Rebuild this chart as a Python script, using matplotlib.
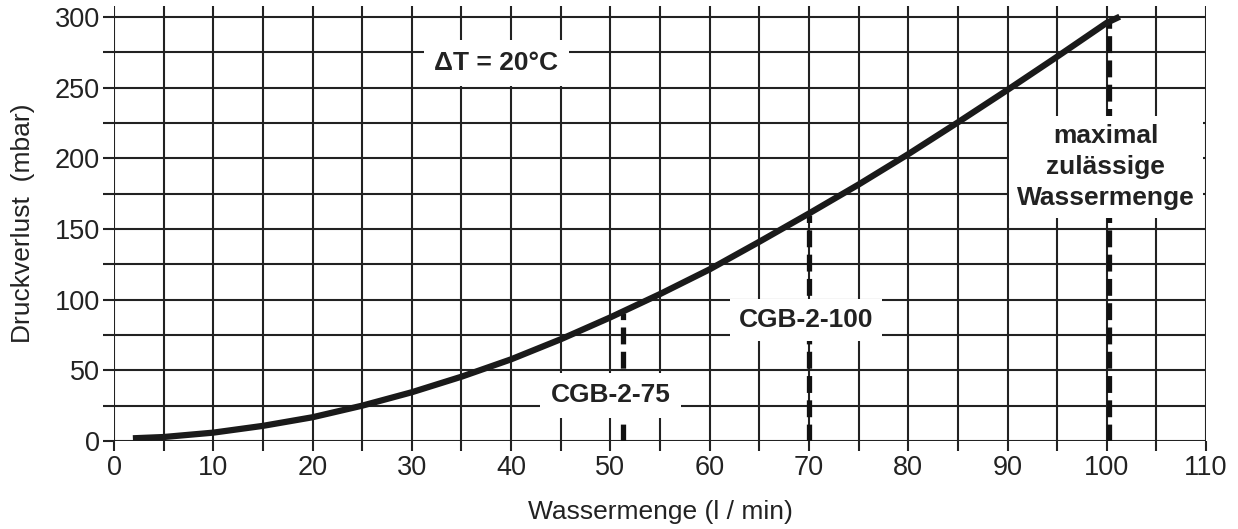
import matplotlib
matplotlib.use("Agg")
import matplotlib.pyplot as plt

plt.rcParams['font.family'] = ['Liberation Sans', 'DejaVu Sans']

# Data
flow = [1.9, 5, 10, 15, 20, 25, 30, 35, 40, 45, 50, 55, 60, 65, 70, 75, 80, 85, 90, 95, 100, 101.3]
pressure = [1.9, 2.8, 5.9, 10.7, 16.8, 25, 34.5, 45.5, 57.8, 72, 87.5, 104, 121.5, 141, 161, 181.5, 203, 225.5, 248.5, 272, 296, 300.3]

models = ["CGB-2-75", "CGB-2-100", "max"]
model_flow = [51.3, 70.0, 100.2]
model_top = [90.5, 160, 297]

x_ticks = list(range(0, 111, 5))
x_labels = [str(v) if v % 10 == 0 else "" for v in x_ticks]
y_ticks = list(range(0, 301, 25))
y_labels = [str(v) if v % 50 == 0 else "" for v in y_ticks]

fig = plt.figure(figsize=(12.38, 5.29), dpi=100)
ax = fig.add_axes([0.0921, 0.1664, 0.8821, 0.8226])

ax.set_xlim(0, 110)
ax.set_ylim(0, 308)

grid_col = '#222222'
ax.set_xticks(x_ticks)
ax.set_xticklabels(x_labels)
ax.set_yticks(y_ticks)
ax.set_yticklabels(y_labels)
ax.grid(True, color=grid_col, linewidth=1.5, zorder=1)
ax.set_axisbelow(True)
for s in ['top', 'right', 'left', 'bottom']:
    ax.spines[s].set_visible(False)
ax.tick_params(axis='x', direction='out', length=7, width=1.5, color=grid_col,
               labelsize=19.5, pad=3, labelcolor='#222222')
ax.tick_params(axis='y', direction='out', length=8, width=1.5, color=grid_col,
               labelsize=19.5, pad=2, labelcolor='#222222')

# model dashed lines
for xf, yt in zip(model_flow, model_top):
    ax.plot([xf, xf], [0, yt], color='#111111', linewidth=3.8,
            linestyle=(0, (3.2, 1.4)), zorder=3, solid_capstyle='butt')

# main curve
ax.plot(flow, pressure, color='#1a1a1a', linewidth=4.5, zorder=5,
        solid_capstyle='butt')

def box(pad):
    return dict(boxstyle='square,pad=%s' % pad, facecolor='white', edgecolor='none')

ax.text(50.0, 32.5, "CGB-2-75", fontsize=19, fontweight='bold', ha='center',
        va='center', color='#222222', bbox=box(0.4), zorder=6)
ax.text(69.7, 85.6, "CGB-2-100", fontsize=19, fontweight='bold', ha='center',
        va='center', color='#222222', bbox=box(0.33), zorder=6)
ax.text(38.5, 267.5, "ΔT = 20°C", fontsize=19, fontweight='bold', ha='center',
        va='center', color='#222222', bbox=box(0.4), zorder=6)
ax.text(99.9, 194, "maximal\nzulässige\nWassermenge", fontsize=19, fontweight='bold',
        ha='center', va='center', color='#222222', linespacing=1.38,
        bbox=box(0.3), zorder=6)

ax.set_xlabel("Wassermenge (l / min)", fontsize=19, color='#222222', labelpad=14)
ax.set_ylabel("Druckverlust  (mbar)", fontsize=19, color='#222222', labelpad=14)

fig.savefig("out.png", dpi=100)
